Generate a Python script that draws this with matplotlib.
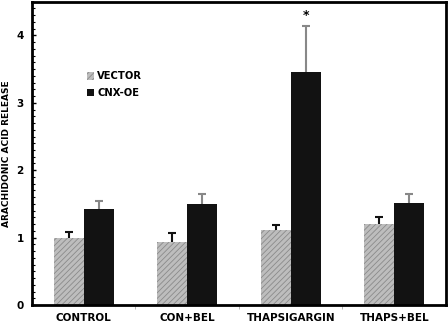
import numpy as np
import matplotlib.pyplot as plt
from matplotlib.ticker import MultipleLocator, FixedLocator

plt.rcParams['hatch.color'] = '#8a8a8a'
plt.rcParams['hatch.linewidth'] = 0.6

categories = ["CONTROL", "CON+BEL", "THAPSIGARGIN", "THAPS+BEL"]
vector = [1.00, 0.93, 1.11, 1.20]
vector_err = [0.09, 0.14, 0.08, 0.10]
cnx = [1.43, 1.50, 3.45, 1.51]
cnx_err = [0.12, 0.14, 0.69, 0.13]

fig = plt.figure(figsize=(4.48, 3.23), dpi=100)
ax = fig.add_axes([0.0714, 0.0557, 0.924, 0.939])

x = np.arange(len(categories))
w = 0.29
ax.bar(x - w/2, vector, w, color='#bdbdbd', hatch='//////', linewidth=0,
       label='VECTOR', zorder=2)
ax.bar(x + w/2, cnx, w, color='#121212', linewidth=0, label='CNX-OE', zorder=2)

# upper error bars only
for xs, ys, es, col in [(x - w/2, vector, vector_err, '#111111'),
                        (x + w/2, cnx, cnx_err, '#888888')]:
    eb = ax.errorbar(xs, ys, yerr=[np.zeros(4), es], fmt='none', ecolor=col,
                     elinewidth=1.5, capsize=3, capthick=1.5, zorder=1)
    eb[1][0].remove()  # drop the lower cap

ax.text(2 + w/2, cnx[2] + cnx_err[2] + 0.06, '*', ha='center', va='bottom',
        fontsize=9, fontweight='bold')

ax.set_xlim(-0.5, 3.5)
ax.set_ylim(0, 4.5)
ax.set_xticks(x)
ax.set_xticklabels(categories, fontsize=7.5, fontweight='bold')
ax.tick_params(axis='x', which='major', length=0, pad=6)
ax.xaxis.set_minor_locator(FixedLocator([0.5, 1.5, 2.5]))
ax.tick_params(axis='x', which='minor', length=3, color='#aaaaaa', direction='out')

ax.set_yticks([0, 1, 2, 3, 4])
ax.set_yticklabels(['0', '1', '2', '3', '4'], fontsize=7.5, fontweight='bold')
ax.yaxis.set_minor_locator(MultipleLocator(0.1))
ax.tick_params(axis='y', which='major', length=3, width=1, direction='in', pad=6)
ax.tick_params(axis='y', which='minor', length=2, width=0.8, direction='in')
ax.set_ylabel('ARACHIDONIC ACID RELEASE', fontsize=6.5, fontweight='bold', labelpad=4)

for s in ax.spines.values():
    s.set_linewidth(2)

ax.legend(loc='upper left', bbox_to_anchor=(0.11, 0.80), frameon=False,
          prop={'size': 7.2, 'weight': 'bold'}, handlelength=0.75,
          handleheight=0.75, handletextpad=0.3, labelspacing=0.65)

fig.savefig('out.png', dpi=100)
